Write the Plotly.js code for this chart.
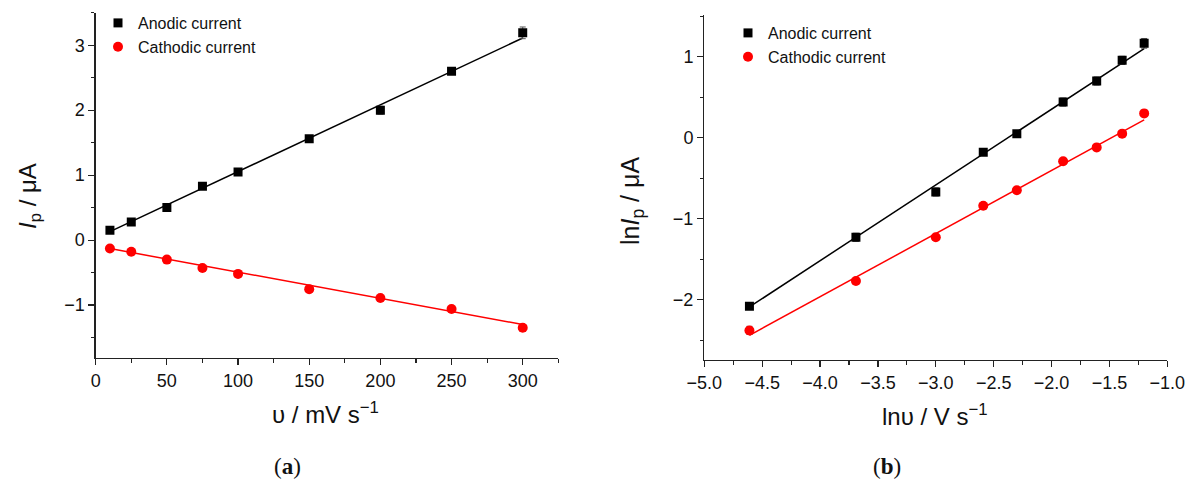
<!DOCTYPE html>
<html>
<head>
<meta charset="utf-8">
<script src="https://cdn.plot.ly/plotly-3.0.1.min.js"></script>
<style>
  html, body { margin: 0; padding: 0; background: #fff; }
  #chart { width: 1186px; height: 484px; }
</style>
</head>
<body>
<div id="chart"></div>
<script>
// ---- Panel (a): peak current vs scan rate ----
const scanRate = [10, 25, 50, 75, 100, 150, 200, 250, 300];           // mV s^-1
const anodicA = [0.15, 0.28, 0.50, 0.83, 1.05, 1.56, 2.00, 2.60, 3.19]; // µA
const anodicAErr = [0.02, 0.02, 0.02, 0.02, 0.02, 0.03, 0.06, 0.05, 0.09];
const cathodicA = [-0.13, -0.18, -0.30, -0.43, -0.52, -0.755, -0.89, -1.06, -1.35];
const cathodicAErr = [0.02, 0.02, 0.02, 0.02, 0.02, 0.02, 0.02, 0.04, 0.05];
const fitAnodicA_x = [10, 300];
const fitAnodicA_y = [0.13, 3.11];
const fitCathodicA_x = [10, 300];
const fitCathodicA_y = [-0.13, -1.30];

// ---- Panel (b): ln Ip vs ln v ----
const lnScanRate = [-4.61, -3.69, -3.00, -2.59, -2.30, -1.90, -1.61, -1.39, -1.20];
const lnAnodic = [-2.08, -1.23, -0.67, -0.18, 0.05, 0.44, 0.70, 0.955, 1.165];
const lnAnodicErr = [0.03, 0.05, 0.05, 0.03, 0.03, 0.05, 0.05, 0.05, 0.06];
const lnCathodic = [-2.38, -1.77, -1.23, -0.84, -0.65, -0.29, -0.12, 0.05, 0.30];
const lnCathodicErr = [0.05, 0.04, 0.03, 0.02, 0.02, 0.03, 0.02, 0.03, 0.04];
const fitAnodicB_x = [-4.61, -1.20];
const fitAnodicB_y = [-2.09, 1.10];
const fitCathodicB_x = [-4.61, -1.20];
const fitCathodicB_y = [-2.44, 0.22];

const seriesNames = ['Anodic current', 'Cathodic current'];
const FONT = 'Liberation Sans, Arial, sans-serif';
const SERIF = 'Liberation Serif, DejaVu Serif, serif';

function errSpec(arr) {
  return { type: 'data', array: arr, visible: true, color: '#555', thickness: 1, width: 3 };
}

const traces = [
  { x: fitAnodicA_x, y: fitAnodicA_y, mode: 'lines', line: { color: '#000', width: 1.5 },
    xaxis: 'x', yaxis: 'y', showlegend: false, hoverinfo: 'skip' },
  { x: fitCathodicA_x, y: fitCathodicA_y, mode: 'lines', line: { color: '#ff0000', width: 1.5 },
    xaxis: 'x', yaxis: 'y', showlegend: false, hoverinfo: 'skip' },
  { x: scanRate, y: anodicA, name: seriesNames[0], mode: 'markers', error_y: errSpec(anodicAErr),
    marker: { symbol: 'square', size: 9, color: '#000' }, xaxis: 'x', yaxis: 'y', legend: 'legend' },
  { x: scanRate, y: cathodicA, name: seriesNames[1], mode: 'markers', error_y: errSpec(cathodicAErr),
    marker: { symbol: 'circle', size: 10, color: '#ff0000' }, xaxis: 'x', yaxis: 'y', legend: 'legend' },
  { x: fitAnodicB_x, y: fitAnodicB_y, mode: 'lines', line: { color: '#000', width: 1.5 },
    xaxis: 'x2', yaxis: 'y2', showlegend: false, hoverinfo: 'skip' },
  { x: fitCathodicB_x, y: fitCathodicB_y, mode: 'lines', line: { color: '#ff0000', width: 1.5 },
    xaxis: 'x2', yaxis: 'y2', showlegend: false, hoverinfo: 'skip' },
  { x: lnScanRate, y: lnAnodic, name: seriesNames[0], mode: 'markers', error_y: errSpec(lnAnodicErr),
    marker: { symbol: 'square', size: 9, color: '#000' }, xaxis: 'x2', yaxis: 'y2', legend: 'legend2' },
  { x: lnScanRate, y: lnCathodic, name: seriesNames[1], mode: 'markers', error_y: errSpec(lnCathodicErr),
    marker: { symbol: 'circle', size: 10, color: '#ff0000' }, xaxis: 'x2', yaxis: 'y2', legend: 'legend2' }
];

const W = 1186, H = 484;
const px = v => v / W;
const py = v => 1 - v / H;

const axisCommon = {
  showline: true, linecolor: '#222', linewidth: 1.3, mirror: false,
  showgrid: false, zeroline: false,
  ticks: 'outside', ticklen: 6, tickwidth: 1.2, tickcolor: '#222',
  tickfont: { family: FONT, size: 18, color: '#111' },
  fixedrange: true
};

function ann(text, x, y, opts) {
  return Object.assign({
    text: text, xref: 'paper', yref: 'paper', x: px(x), y: py(y),
    xanchor: 'center', yanchor: 'middle', showarrow: false,
    font: { family: FONT, size: 24, color: '#111' }
  }, opts || {});
}

const layout = {
  width: W, height: H,
  margin: { l: 0, r: 0, t: 0, b: 0 },
  paper_bgcolor: '#fff', plot_bgcolor: '#fff',
  font: { family: FONT, color: '#111' },
  xaxis: Object.assign({}, axisCommon, {
    domain: [px(95.7), px(558.3)], range: [0, 325], anchor: 'y',
    tickvals: [0, 50, 100, 150, 200, 250, 300],
    minor: { dtick: 25, ticklen: 3.5, tickwidth: 1.1, tickcolor: '#222', ticks: 'outside', tick0: 0 }
  }),
  yaxis: Object.assign({}, axisCommon, {
    domain: [py(357.7), py(12.7)], range: [-1.81, 3.5], anchor: 'x',
    tickvals: [-1, 0, 1, 2, 3],
    minor: { dtick: 0.5, ticklen: 3.5, tickwidth: 1.1, tickcolor: '#222', ticks: 'outside', tick0: 0 }
  }),
  xaxis2: Object.assign({}, axisCommon, {
    domain: [px(704.3), px(1167.3)], range: [-5, -1], anchor: 'y2',
    tickvals: [-5, -4.5, -4, -3.5, -3, -2.5, -2, -1.5, -1], tickformat: '.1f',
    minor: { dtick: 0.25, ticklen: 3.5, tickwidth: 1.1, tickcolor: '#222', ticks: 'outside', tick0: 0 }
  }),
  yaxis2: Object.assign({}, axisCommon, {
    domain: [py(360), py(15)], range: [-2.745, 1.515], anchor: 'x2',
    tickvals: [-2, -1, 0, 1],
    minor: { dtick: 0.5, ticklen: 3.5, tickwidth: 1.1, tickcolor: '#222', ticks: 'outside', tick0: 0 }
  }),
  legend: {
    x: px(98), y: py(6), xanchor: 'left', yanchor: 'top',
    bgcolor: 'rgba(0,0,0,0)', font: { family: FONT, size: 16, color: '#111' },
    itemwidth: 30, tracegroupgap: 0
  },
  legend2: {
    x: px(728), y: py(16), xanchor: 'left', yanchor: 'top',
    bgcolor: 'rgba(0,0,0,0)', font: { family: FONT, size: 16, color: '#111' },
    itemwidth: 30, tracegroupgap: 0
  },
  annotations: [
    ann('<i>I</i><sub>p</sub> / μA', 29, 196, { textangle: -90 }),
    ann('υ / mV s<sup>−1</sup>', 325, 413),
    ann('ln<i>I</i><sub>p</sub> / μA', 632, 201, { textangle: -90, font: { family: FONT, size: 25, color: '#111' } }),
    ann('lnυ / V s<sup>−1</sup>', 935, 415),
    ann('(<b>a</b>)', 287, 466, { font: { family: SERIF, size: 23, color: '#111' } }),
    ann('(<b>b</b>)', 887, 466, { font: { family: SERIF, size: 23, color: '#111' } })
  ]
};

Plotly.newPlot('chart', traces, layout, { displayModeBar: false, staticPlot: true });
</script>
</body>
</html>
